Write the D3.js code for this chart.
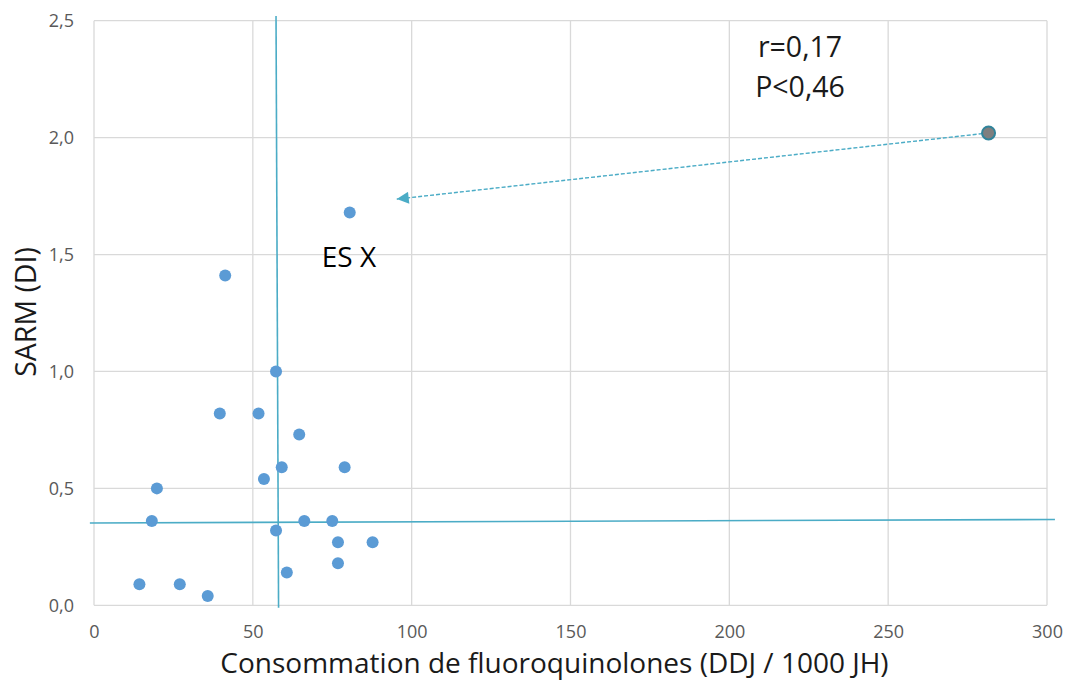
<!DOCTYPE html>
<html><head><meta charset="utf-8">
<script src="https://cdn.jsdelivr.net/npm/d3@7"></script>
<style>
html,body{margin:0;padding:0;background:#fff;}
svg{display:block;}
text{font-family:"Open Sans",sans-serif;}
</style></head>
<body>
<svg id="chart" width="1066" height="681"></svg>
<script>
// ---- data ----
const xTicks = [0, 50, 100, 150, 200, 250, 300];
const yTicks = [0, 0.5, 1.0, 1.5, 2.0, 2.5];
const fqConsumption = [14.3, 27.0, 35.8, 18.2, 19.8, 39.6, 51.8, 57.3, 64.6, 59.1, 78.9, 53.5, 57.3, 66.2, 75.0, 76.8, 87.7, 76.8, 60.7, 41.3, 80.5];
const sarmDensity   = [0.09, 0.09, 0.04, 0.36, 0.50, 0.82, 0.82, 1.00, 0.73, 0.59, 0.59, 0.54, 0.32, 0.36, 0.36, 0.27, 0.27, 0.18, 0.14, 1.41, 1.68];
const outlierX = [281.6];
const outlierY = [2.02];
const medianVLine = [[57.3, 2.52], [58.1, -0.01]];
const medianHLine = [[-1.3, 0.352], [302.5, 0.367]];
const arrowLine = [[281.6, 2.02], [95.3, 1.737]];
const statsLabels = ["r=0,17", "P<0,46"];
const pointLabel = "ES X";
const xTitle = "Consommation de fluoroquinolones (DDJ / 1000 JH)";
const yTitle = "SARM (DI)";

// ---- chart ----
const svg = d3.select("#chart");
const x = d3.scaleLinear().domain([0, 300]).range([94, 1047]);
const y = d3.scaleLinear().domain([0, 2.5]).range([605.3, 20.7]);
const fmt = d => d3.format(".1f")(d).replace(".", ",");

// gridlines
svg.append("g").selectAll("line").data(xTicks).join("line")
  .attr("x1", d => x(d)).attr("x2", d => x(d))
  .attr("y1", y(0)).attr("y2", y(2.5))
  .attr("stroke", "#d9d9d9").attr("stroke-width", 1.3);
svg.append("g").selectAll("line").data(yTicks).join("line")
  .attr("y1", d => y(d)).attr("y2", d => y(d))
  .attr("x1", x(0)).attr("x2", x(300))
  .attr("stroke", "#d9d9d9").attr("stroke-width", 1.3);

// axes (labels only)
const xAxis = svg.append("g").attr("transform", `translate(0,${y(0)})`)
  .call(d3.axisBottom(x).tickValues(xTicks).tickSize(0).tickPadding(20).tickFormat(d3.format("d")));
xAxis.select(".domain").remove();
xAxis.selectAll("text").attr("fill", "#595959").attr("font-size", 18).attr("font-family", "Open Sans");
const yAxis = svg.append("g").attr("transform", `translate(${x(0)},0)`)
  .call(d3.axisLeft(y).tickValues(yTicks).tickSize(0).tickPadding(20).tickFormat(fmt));
yAxis.select(".domain").remove();
yAxis.selectAll("text").attr("fill", "#595959").attr("font-size", 18).attr("font-family", "Open Sans");

// axis titles
svg.append("text").attr("x", (x(0) + x(300)) / 2 - 16).attr("y", 673)
  .attr("text-anchor", "middle").attr("font-size", 28).attr("fill", "#1a1a1a")
  .text(xTitle);
svg.append("text").attr("transform", `translate(36,${312}) rotate(-90)`)
  .attr("text-anchor", "middle").attr("font-size", 28.5).attr("fill", "#1a1a1a")
  .text(yTitle);

// median lines
const line = d3.line().x(d => x(d[0])).y(d => y(d[1]));
svg.append("path").attr("d", line(medianVLine)).attr("fill", "none")
  .attr("stroke", "#4bacc6").attr("stroke-width", 1.6);
svg.append("path").attr("d", line(medianHLine)).attr("fill", "none")
  .attr("stroke", "#4bacc6").attr("stroke-width", 1.6);

// points
svg.append("g").selectAll("circle").data(fqConsumption.map((v, i) => [v, sarmDensity[i]])).join("circle")
  .attr("cx", d => x(d[0])).attr("cy", d => y(d[1])).attr("r", 6)
  .attr("fill", "#5b9bd5");

// arrow
svg.append("defs").append("marker").attr("id", "ah")
  .attr("viewBox", "0 0 10 10").attr("refX", 10).attr("refY", 5)
  .attr("markerWidth", 14).attr("markerHeight", 12).attr("markerUnits", "userSpaceOnUse")
  .attr("orient", "auto")
  .append("path").attr("d", "M0,0 L10,5 L0,10 Z").attr("fill", "#4bacc6");
svg.append("path").attr("d", line(arrowLine)).attr("fill", "none")
  .attr("stroke", "#4bacc6").attr("stroke-width", 1.4).attr("stroke-dasharray", "4,2")
  .attr("marker-end", "url(#ah)");

// outlier
svg.append("g").selectAll("circle").data(outlierX.map((v, i) => [v, outlierY[i]])).join("circle")
  .attr("cx", d => x(d[0])).attr("cy", d => y(d[1])).attr("r", 6.5)
  .attr("fill", "#7f7f7f").attr("stroke", "#31849b").attr("stroke-width", 2);

// annotations
svg.append("g").selectAll("text").data(statsLabels).join("text")
  .attr("x", 800).attr("y", (d, i) => 57 + i * 40)
  .attr("text-anchor", "middle").attr("font-size", 28.5).attr("fill", "#1a1a1a")
  .text(d => d);
svg.append("text").attr("x", 349).attr("y", 267)
  .attr("text-anchor", "middle").attr("font-size", 28).attr("fill", "#000")
  .text(pointLabel);
</script>
</body></html>
